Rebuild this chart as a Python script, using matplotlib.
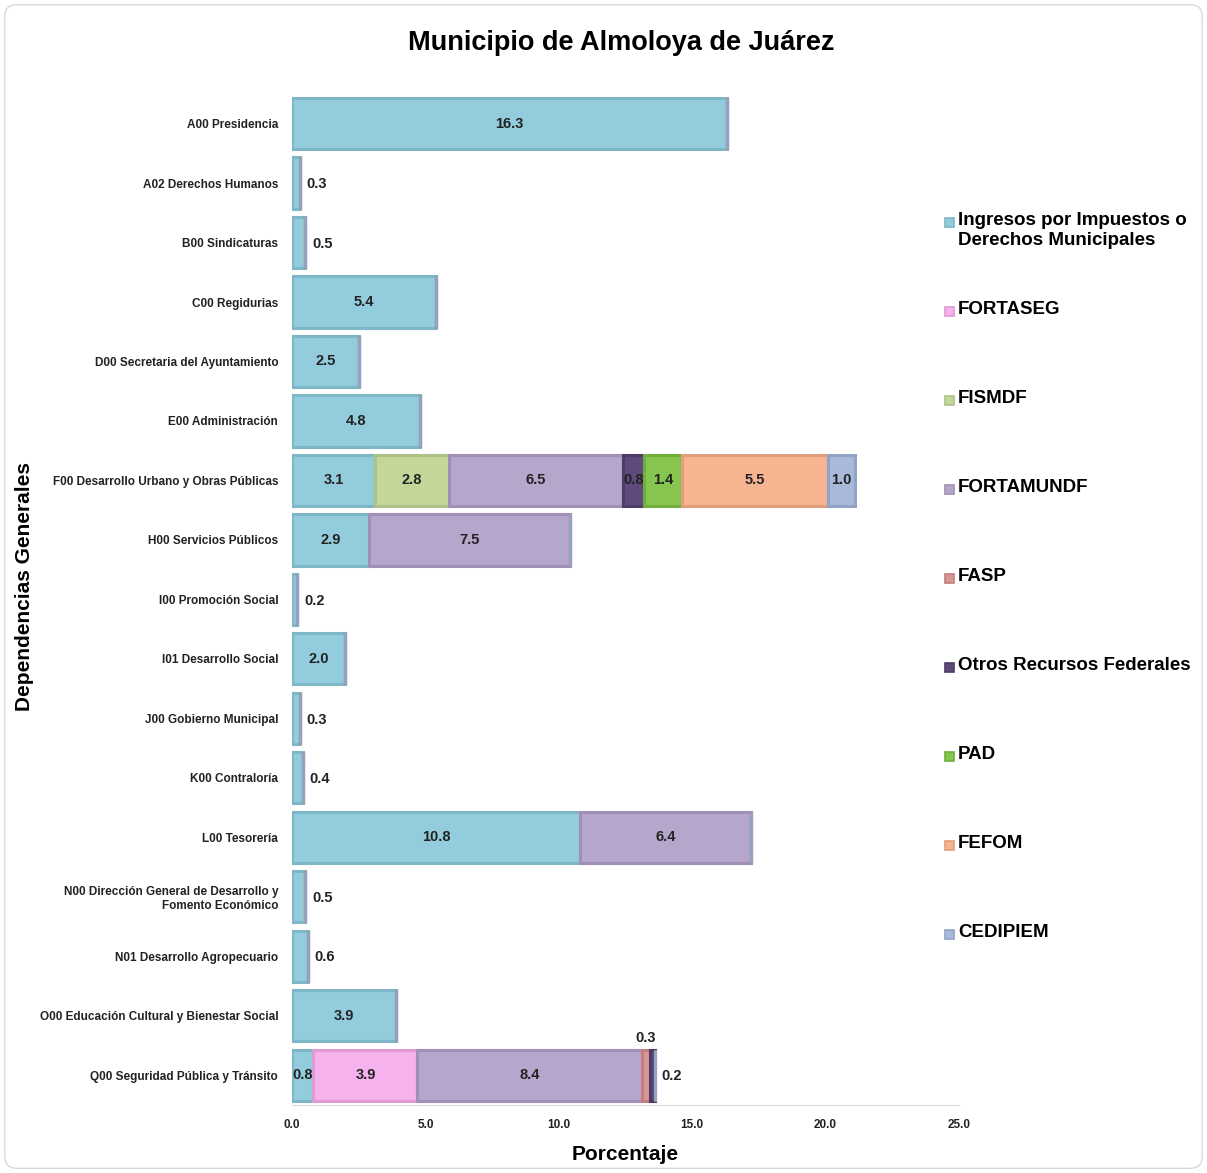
import matplotlib.pyplot as plt
import numpy as np
from matplotlib.patches import FancyBboxPatch, Rectangle

plt.rcParams["font.family"] = ["Liberation Sans", "DejaVu Sans"]
plt.rcParams["font.weight"] = "bold"

deps = [
    "A00 Presidencia",
    "A02 Derechos Humanos",
    "B00 Sindicaturas",
    "C00 Regidurias",
    "D00 Secretaria del Ayuntamiento",
    "E00 Administración",
    "F00 Desarrollo Urbano y Obras Públicas",
    "H00 Servicios Públicos",
    "I00 Promoción Social",
    "I01 Desarrollo Social",
    "J00 Gobierno Municipal",
    "K00 Contraloría",
    "L00 Tesorería",
    "N00 Dirección General de Desarrollo y\nFomento Económico",
    "N01 Desarrollo Agropecuario",
    "O00 Educación Cultural y Bienestar Social",
    "Q00 Seguridad Pública y Tránsito",
]

ingresos   = [16.3, 0.3, 0.5, 5.4, 2.5, 4.8, 3.1, 2.9, 0.2, 2.0, 0.3, 0.4, 10.8, 0.5, 0.6, 3.9, 0.8]
fortaseg   = [0, 0, 0, 0, 0, 0, 0, 0, 0, 0, 0, 0, 0, 0, 0, 0, 3.9]
fismdf     = [0, 0, 0, 0, 0, 0, 2.8, 0, 0, 0, 0, 0, 0, 0, 0, 0, 0]
fortamundf = [0, 0, 0, 0, 0, 0, 6.5, 7.5, 0, 0, 0, 0, 6.4, 0, 0, 0, 8.4]
fasp       = [0, 0, 0, 0, 0, 0, 0, 0, 0, 0, 0, 0, 0, 0, 0, 0, 0.3]
otros      = [0, 0, 0, 0, 0, 0, 0.8, 0, 0, 0, 0, 0, 0, 0, 0, 0, 0.2]
pad        = [0, 0, 0, 0, 0, 0, 1.4, 0, 0, 0, 0, 0, 0, 0, 0, 0, 0]
fefom      = [0, 0, 0, 0, 0, 0, 5.5, 0, 0, 0, 0, 0, 0, 0, 0, 0, 0]
cedipiem   = [0, 0, 0, 0, 0, 0, 1.0, 0, 0, 0, 0, 0, 0, 0, 0, 0, 0]

series = [
    ("Ingresos por Impuestos o\nDerechos Municipales", ingresos, "#93CDDD", "#7DB7C8"),
    ("FORTASEG", fortaseg, "#F5B2EC", "#E09AD6"),
    ("FISMDF", fismdf, "#C4D79B", "#AFC285"),
    ("FORTAMUNDF", fortamundf, "#B7A6CB", "#A090B5"),
    ("FASP", fasp, "#D99694", "#C27F7D"),
    ("Otros Recursos Federales", otros, "#604A7B", "#4F3B68"),
    ("PAD", pad, "#86C550", "#71AF3D"),
    ("FEFOM", fefom, "#F7B491", "#E29E7B"),
    ("CEDIPIEM", cedipiem, "#A9B9DA", "#92A3C5"),
]

W, H = 1207, 1173
fig = plt.figure(figsize=(W / 100, H / 100), dpi=100)
ax = fig.add_axes([0.242, 0.058, 0.5525, 0.862])

y = np.arange(len(deps))
left = np.zeros(len(deps))
for name, vals, col, edge in series:
    vals = np.array(vals, dtype=float)
    ax.barh(y, vals, left=left, height=0.86, color=col,
            edgecolor=edge, linewidth=2.2, label=name)
    for i, v in enumerate(vals):
        if v <= 0:
            continue
        total = sum(s[1][i] for s in series)
        if name == "FASP":
            ax.text(left[i] + v / 2, y[i] - 0.62, f"{v:.1f}", ha="center",
                    va="center", fontsize=10.5, color="#222222")
        elif v < 0.7 and (total == v or name == "Otros Recursos Federales"):
            ax.text(total + 0.25, y[i] + 0.02, f"{v:.1f}", ha="left",
                    va="center", fontsize=10.5, color="#222222")
        else:
            ax.text(left[i] + v / 2, y[i], f"{v:.1f}", ha="center",
                    va="center", fontsize=10.5, color="#222222")
    left += vals

ax.set_ylim(len(deps) - 0.5, -0.5)
ax.set_xlim(0, 25)
ax.set_yticks(y)
ax.set_yticklabels(deps, fontsize=8.5, color="#222222")
ax.set_xticks([0, 5, 10, 15, 20, 25])
ax.set_xticklabels(["0.0", "5.0", "10.0", "15.0", "20.0", "25.0"],
                   fontsize=8.5, color="#222222")
ax.tick_params(length=0, pad=10)
for s in ["top", "right", "left"]:
    ax.spines[s].set_visible(False)
ax.spines["bottom"].set_color("#D9D9D9")

ax.set_xlabel("Porcentaje", fontsize=15, fontweight="bold", labelpad=10)
fig.text(0.02, 0.5, "Dependencias Generales", rotation=90, ha="center",
         va="center", fontsize=15, fontweight="bold")
fig.text(0.515, 0.963, "Municipio de Almoloya de Juárez", ha="center",
         va="center", fontsize=19.5, fontweight="bold")

# legend drawn by hand: first entry is two lines, the rest evenly spaced
leg_y = [222] + [311 + 89 * k for k in range(len(series) - 1)]
for (name, vals, col, edge), py in zip(series, leg_y):
    fig.add_artist(Rectangle(((945) / W, 1 - (py + 5) / H), 9 / W, 9 / H,
                             transform=fig.transFigure, facecolor=col,
                             edgecolor=edge, linewidth=1.2))
    fig.text(958 / W, 1 - (py - 10) / H, name, ha="left", va="top",
             fontsize=13.5, fontweight="bold", linespacing=1.25)

fig.patches.append(FancyBboxPatch((0.004, 0.004), 0.992, 0.992,
                                  boxstyle="round,pad=0,rounding_size=0.01",
                                  transform=fig.transFigure, fill=False,
                                  edgecolor="#D9D9D9", linewidth=1))

fig.savefig("out.png", dpi=100)
